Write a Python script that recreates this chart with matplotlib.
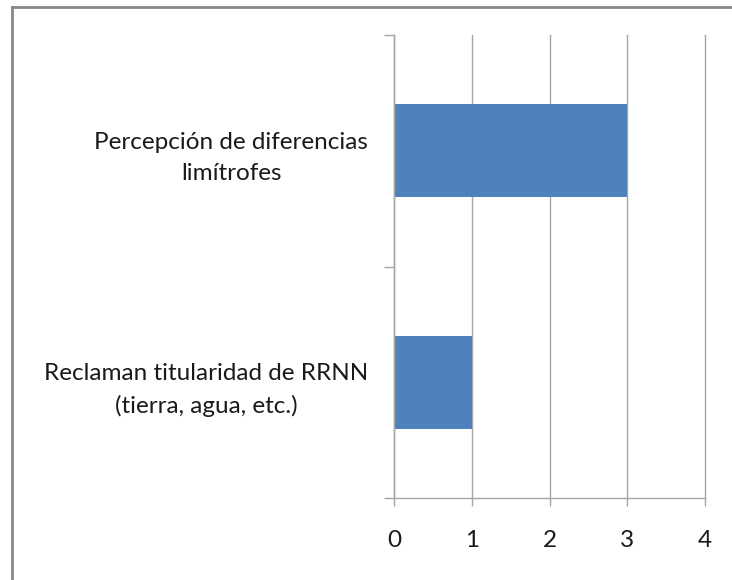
import matplotlib
matplotlib.use("Agg")
import matplotlib.pyplot as plt
from matplotlib.lines import Line2D

categories = ["Reclaman titularidad de RRNN\n(tierra, agua, etc.)",
              "Percepción de diferencias\nlimítrofes"]
values = [1, 3]
x_ticks = [0, 1, 2, 3, 4]

plt.rcParams['font.family'] = ['Lato', 'DejaVu Sans']

fig = plt.figure(figsize=(7.32, 5.80), dpi=100)
ax = fig.add_axes([394.5/732, 1-498/580, (705-394.5)/732, (498-35)/580])

grid_col = '#A6A6A6'
ax.barh(range(len(categories)), values, height=0.4, color='#4F81BD', zorder=3)
ax.set_xlim(0, 4)
ax.set_ylim(-0.5, len(categories)-0.5)
ax.set_xticks(x_ticks)
ax.set_xticklabels([str(t) for t in x_ticks])
ax.set_yticks([-0.5, 0.5, 1.5])
ax.set_yticklabels([])
ax.set_yticks(range(len(categories)), minor=True)
ax.set_yticklabels(categories, minor=True, multialignment='center', linespacing=1.6)
ax.tick_params(axis='y', which='major', length=7, width=1, color=grid_col, direction='out')
ax.tick_params(axis='y', which='minor', length=0, pad=19, labelsize=17.5, labelcolor='#1a1a1a')
ax.tick_params(axis='x', length=6, width=1, color=grid_col, direction='out', pad=17,
               labelsize=17.5, labelcolor='#1a1a1a')
ax.xaxis.grid(True, color=grid_col, linewidth=1, zorder=0)
for gl in ax.get_xgridlines():
    gl.set_clip_on(False)
for s in ['top', 'right']:
    ax.spines[s].set_visible(False)
for s in ['left', 'bottom']:
    ax.spines[s].set_color(grid_col)
    ax.spines[s].set_linewidth(1)
ax.spines['left'].set_zorder(4)

# outer chart border (only top and left visible)
bcol = '#888888'
fig.add_artist(Line2D([12/732, 1], [1-7/580, 1-7/580], color=bcol, linewidth=2,
                      transform=fig.transFigure))
fig.add_artist(Line2D([12/732, 12/732], [0, 1-7/580], color=bcol, linewidth=2,
                      transform=fig.transFigure))

fig.savefig("out.png", dpi=100)
